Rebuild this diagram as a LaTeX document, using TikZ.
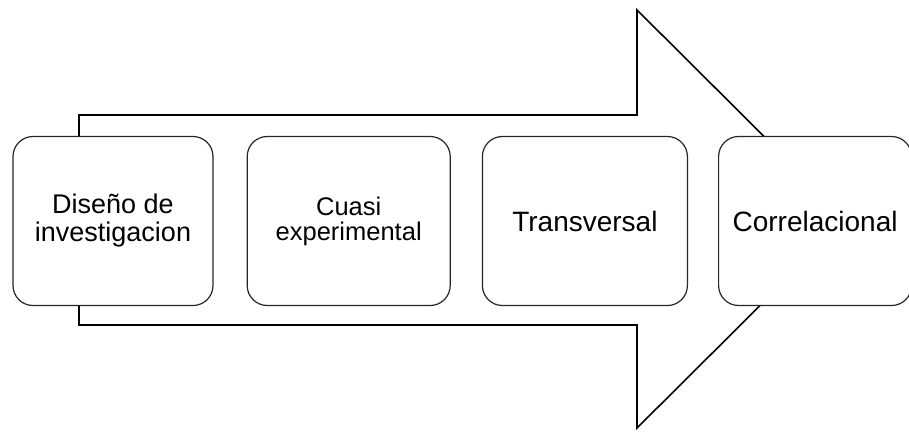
\documentclass[tikz,border=0pt]{standalone}
\usepackage{fontspec}
\setmainfont{Liberation Sans}
\usetikzlibrary {positioning}

\begin{document}
\begin{tikzpicture}[x=1pt,y=-1pt,
            etapa/.style={draw=black!85,line width=1.2pt,fill=white,rounded corners=20pt,
                minimum height=169pt,minimum width=203pt,align=center,inner sep=0pt},
            node distance=31pt]
            \useasboundingbox (0,0) rectangle (909,432);

            % flecha de fondo
            \draw[line width=1.6pt,fill=white] (79,115) -- (637,115) -- (637,10) -- (847,219)
                -- (637,428) -- (637,325) -- (79,325) -- cycle;

            \node[etapa,minimum width=200pt,font=\fontsize{27}{28}\selectfont] (diseno) at (113,221)
                {Diseño de\\investigacion};
            \node[etapa,right=33pt of diseno,font=\fontsize{25.5}{25}\selectfont] (cuasi)
                {Cuasi\\experimental};
            \node[etapa,minimum width=205pt,right=of cuasi,font=\fontsize{28}{30}\selectfont] (transv)
                {Transversal};
            \node[etapa,minimum width=193pt,right=30pt of transv,font=\fontsize{28}{30}\selectfont] (correl)
                {Correlacional};
        \end{tikzpicture}
\end{document}
